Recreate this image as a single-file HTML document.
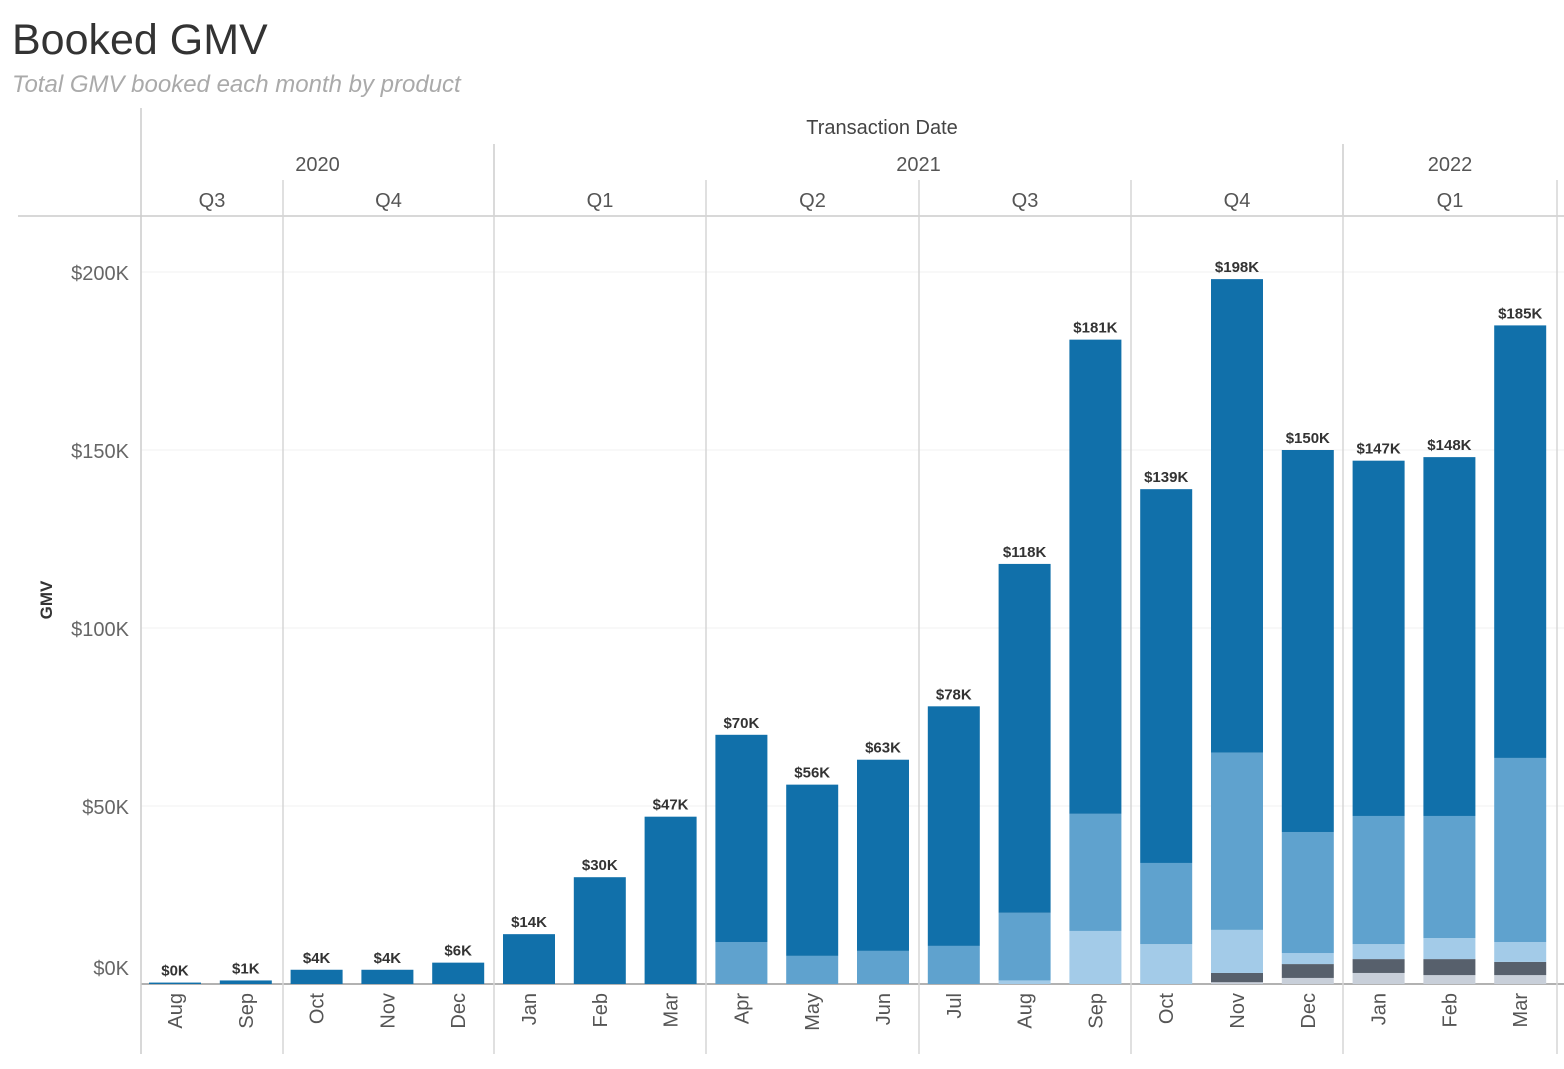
<!DOCTYPE html>
<html><head><meta charset="utf-8"><style>
body{margin:0;background:#fff;width:1564px;height:1064px;overflow:hidden;font-family:"Liberation Sans",sans-serif}
</style></head><body>
<svg id="chart" width="1564" height="1064" xmlns="http://www.w3.org/2000/svg" font-family="Liberation Sans, sans-serif">
<text x="12" y="54" font-size="43" fill="#333">Booked GMV</text>
<text x="12" y="92" font-size="24" font-style="italic" fill="#aaa">Total GMV booked each month by product</text>
<g id="frame"></g>
<g id="bars"></g>
</svg>
<script>
const months=["Aug","Sep","Oct","Nov","Dec","Jan","Feb","Mar","Apr","May","Jun","Jul","Aug","Sep","Oct","Nov","Dec","Jan","Feb","Mar"];
const totals=[0.4,1,4,4,6,14,30,47,70,56,63,78,118,181,139,198,150,147,148,185];
const lightGray=[0,0,0,0,0,0,0,0,0,0,0,0,0,0,0,0.5,1.7,3.1,2.5,2.5];
const darkGray=[0,0,0,0,0,0,0,0,0,0,0,0,0,0,0,2.6,3.9,3.9,4.5,3.7];
const lightBlue=[0,0,0,0,0,0,0,0,0,0,0,0,1,14.9,11.2,12.1,3.1,4.2,5.9,5.6];
const midBlue=[0,0,0,0,0,0,0,0,11.8,7.9,9.3,10.7,19,32.9,22.8,49.8,34,36,34.3,51.7];
const yTicks=[0,50,100,150,200];
const quarters=[["Q3",141,283],["Q4",283,494],["Q1",494,706],["Q2",706,919],["Q3",919,1131],["Q4",1131,1343],["Q1",1343,1557]];
const years=[["2020",141,494],["2021",494,1343],["2022",1343,1557]];
const NS="http://www.w3.org/2000/svg";
const frame=document.getElementById('frame'),bars=document.getElementById('bars');
const x0=175,dx=70.8,bw=52,base=984,ky=3.56;
const X=i=>x0+i*dx, Y=v=>base-v*ky;
function mk(p,tag,a,t){const e=document.createElementNS(NS,tag);for(const k in a)e.setAttribute(k,a[k]);if(t!=null)e.textContent=t;p.appendChild(e);return e;}
yTicks.forEach(v=>{
  const g=mk(frame,'line',{x1:141,x2:1564,y1:Y(v),y2:Y(v),stroke:v?'#f0f0f0':'#999','stroke-width':v?1:1.5});
  
  
  const t=mk(frame,'text',{x:129,y:Y(v)+(v?8:-9),'text-anchor':'end','font-size':20,fill:'#666'},'$'+v+'K');
  
  
});
const yt=mk(frame,'text',{x:52,y:600,'text-anchor':'middle','font-size':17,'font-weight':'bold',fill:'#333',transform:'rotate(-90 52 600)'},'GMV');


const xt=mk(frame,'text',{x:882,y:134,'text-anchor':'middle','font-size':20,fill:'#444'},'Transaction Date');


mk(frame,'line',{x1:18,x2:1564,y1:216,y2:216,stroke:'#ccc','stroke-width':1.5});
mk(frame,'line',{x1:141,x2:141,y1:108,y2:1054,stroke:'#ccc','stroke-width':1.5});
years.forEach(([n,a,b])=>{
  const t=mk(frame,'text',{x:(a+b)/2,y:171,'text-anchor':'middle','font-size':20,fill:'#555'},n);
  
  
  if(b<1557) mk(frame,'line',{x1:b,x2:b,y1:144,y2:216,stroke:'#ccc','stroke-width':1.5});
});
quarters.forEach(([n,a,b])=>{
  const t=mk(frame,'text',{x:(a+b)/2,y:207,'text-anchor':'middle','font-size':20,fill:'#555'},n);
  
  
  mk(frame,'line',{x1:b,x2:b,y1:180,y2:1054,stroke:'#d6d6d6','stroke-width':1.5});
});
const series=[[lightGray,'#c8cfd9'],[darkGray,'#57606c'],[lightBlue,'#a3cbe8'],[midBlue,'#5fa2ce']];
months.forEach((m,i)=>{
  const cx=X(i);let acc=0;
  const others=series.reduce((s,[a])=>s+a[i],0);
  const dark=Math.max(totals[i]-others,0);
  const segs=series.map(([a,c])=>[a[i],c]).concat([[dark,'#1170aa']]);
  segs.forEach(([v,c])=>{
    if(v<=0)return;
    const r=mk(bars,'rect',{x:cx-bw/2,y:Y(acc+v),width:bw,height:v*ky,fill:c});
    
    
    acc+=v;
  });
  const l=mk(bars,'text',{x:cx,y:Y(acc)-7,'text-anchor':'middle','font-size':15,'font-weight':'bold',fill:'#333'},'$'+Math.round(acc)+'K');
  
  
  const ml=mk(bars,'text',{x:cx+7,y:993,'text-anchor':'end','font-size':20,fill:'#555',transform:`rotate(-90 ${cx+7} 993)`},m);
  
  
});
</script>
</body></html>
